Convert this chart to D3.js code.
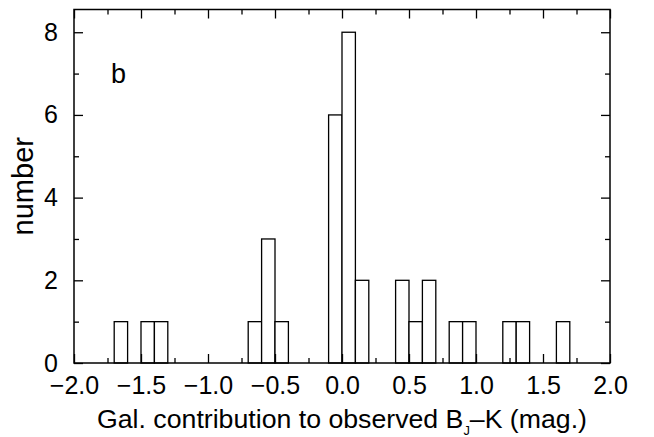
<!DOCTYPE html>
<html>
<head>
<meta charset="utf-8">
<title>histogram b</title>
<script src="https://d3js.org/d3.v7.min.js"></script>
<style>
  body { margin: 0; background: #fff; }
  svg text { font-family: "Liberation Sans", Arial, Helvetica, sans-serif; fill: #000; }
  .axis path { display: none; }
  .axis line { stroke: #000; stroke-width: 1.3; }
</style>
</head>
<body>
<svg width="654" height="437"></svg>
<script>
// bin left edges (mag.), bin width 0.1, and counts
const binStart = [-1.7, -1.5, -1.4, -0.7, -0.6, -0.5, -0.1, 0.0, 0.1, 0.4, 0.5, 0.6, 0.8, 0.9, 1.2, 1.3, 1.6];
const counts   = [1, 1, 1, 1, 3, 1, 6, 8, 2, 2, 1, 2, 1, 1, 1, 1, 1];
const binWidth = 0.1;
const xMajor = [-2.0, -1.5, -1.0, -0.5, 0.0, 0.5, 1.0, 1.5, 2.0];
const xMinor = [-1.75, -1.25, -0.75, -0.25, 0.25, 0.75, 1.25, 1.75];
const yMajor = [0, 2, 4, 6, 8];
const yMinor = [1, 3, 5, 7];

const svg = d3.select("svg");
const m = { left: 74, right: 610, top: 9.5, bottom: 363 };

const x = d3.scaleLinear().domain([-2, 2]).range([m.left, m.right]);
const y = d3.scaleLinear().domain([0, 8.55]).range([m.bottom, m.top]);

const bins = binStart.map((s, i) => ({ x0: s, x1: s + binWidth, n: counts[i] }));

svg.append("g").selectAll("rect")
  .data(bins)
  .join("rect")
  .attr("x", d => x(d.x0))
  .attr("y", d => y(d.n))
  .attr("width", d => x(d.x1) - x(d.x0))
  .attr("height", d => y(0) - y(d.n))
  .attr("fill", "#fff")
  .attr("stroke", "#000")
  .attr("stroke-width", 1.3);

// inward ticks on all four sides
const fmtX = d => d3.format(".1f")(d).replace("-", "\u2212");
svg.append("g").attr("class", "axis")
  .attr("transform", `translate(0,${m.bottom})`)
  .call(d3.axisBottom(x).tickValues(xMajor).tickSize(-9).tickFormat(fmtX))
  .call(g => g.selectAll("text").attr("y", 31).attr("dy", null)
    .style("font-size", "25px").style("fill", "#000"));
svg.append("g").attr("class", "axis")
  .attr("transform", `translate(0,${m.bottom})`)
  .call(d3.axisBottom(x).tickValues(xMinor).tickSize(-5).tickFormat(""));
svg.append("g").attr("class", "axis")
  .attr("transform", `translate(0,${m.top})`)
  .call(d3.axisTop(x).tickValues(xMajor).tickSize(-9).tickFormat(""));
svg.append("g").attr("class", "axis")
  .attr("transform", `translate(0,${m.top})`)
  .call(d3.axisTop(x).tickValues(xMinor).tickSize(-5).tickFormat(""));

svg.append("g").attr("class", "axis")
  .attr("transform", `translate(${m.left},0)`)
  .call(d3.axisLeft(y).tickValues(yMajor).tickSize(-9).tickFormat(d3.format("d")))
  .call(g => g.selectAll("text").attr("x", -16)
    .style("font-size", "25px").style("fill", "#000"));
svg.append("g").attr("class", "axis")
  .attr("transform", `translate(${m.left},0)`)
  .call(d3.axisLeft(y).tickValues(yMinor).tickSize(-5).tickFormat(""));
svg.append("g").attr("class", "axis")
  .attr("transform", `translate(${m.right},0)`)
  .call(d3.axisRight(y).tickValues(yMajor).tickSize(-9).tickFormat(""));
svg.append("g").attr("class", "axis")
  .attr("transform", `translate(${m.right},0)`)
  .call(d3.axisRight(y).tickValues(yMinor).tickSize(-5).tickFormat(""));

// frame
svg.append("rect")
  .attr("x", m.left).attr("y", m.top)
  .attr("width", m.right - m.left).attr("height", m.bottom - m.top)
  .attr("fill", "none").attr("stroke", "#000").attr("stroke-width", 1.5);

// panel letter
svg.append("text")
  .attr("x", 111).attr("y", 83)
  .style("font-size", "27px")
  .text("b");

// axis titles
const xt = svg.append("text")
  .attr("x", 342).attr("y", 428)
  .attr("text-anchor", "middle")
  .attr("textLength", 490)
  .attr("lengthAdjust", "spacingAndGlyphs")
  .style("font-size", "25px");
xt.append("tspan").text("Gal. contribution to observed B");
xt.append("tspan").attr("dy", 7).style("font-size", "12px").text("J");
xt.append("tspan").attr("dy", -7).text("\u2013K (mag.)");

svg.append("text")
  .attr("transform", `translate(33,${(m.top + m.bottom) / 2}) rotate(-90)`)
  .attr("text-anchor", "middle")
  .style("font-size", "29px")
  .text("number");
</script>
</body>
</html>
